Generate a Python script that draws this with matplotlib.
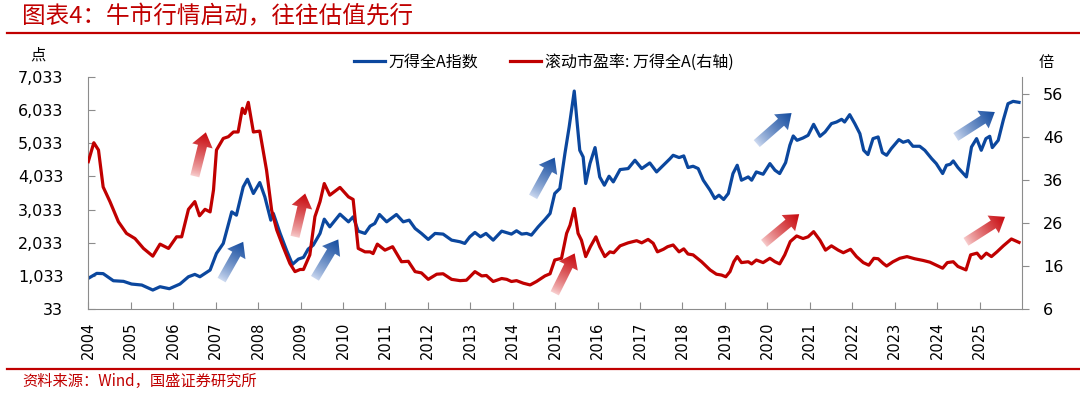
import numpy as np
import matplotlib
matplotlib.use("Agg")
import matplotlib.pyplot as plt
from matplotlib.lines import Line2D
from matplotlib.patches import Polygon
from matplotlib.ticker import FuncFormatter

plt.rcParams['font.family'] = ['DejaVu Sans']
CJK = ['Noto Sans CJK SC', 'DejaVu Sans']

BLUE = '#0B479E'
RED = '#C00000'
GREY = '#8C8C8C'

# 万得全A指数 (left axis), decimal years
idx_year = [2004.00, 2004.20, 2004.35, 2004.59, 2004.83, 2005.02, 2005.26, 2005.52, 2005.69, 2005.91,
            2006.16, 2006.36, 2006.51, 2006.63, 2006.87, 2007.02, 2007.18, 2007.38, 2007.49, 2007.65,
            2007.75, 2007.89, 2008.04, 2008.16, 2008.30, 2008.36, 2008.52, 2008.67, 2008.81, 2008.95,
            2009.07, 2009.18, 2009.30, 2009.46, 2009.56, 2009.69, 2009.93, 2010.13, 2010.24, 2010.36,
            2010.52, 2010.64, 2010.75, 2010.86, 2011.03, 2011.26, 2011.42, 2011.56, 2011.70, 2011.85,
            2012.01, 2012.17, 2012.36, 2012.56, 2012.76, 2012.87, 2012.99, 2013.11, 2013.24, 2013.37,
            2013.54, 2013.74, 2013.89, 2013.97, 2014.09, 2014.21, 2014.33, 2014.44, 2014.60, 2014.76,
            2014.88, 2014.99, 2015.11, 2015.23, 2015.33, 2015.45, 2015.52, 2015.58, 2015.66, 2015.72,
            2015.82, 2015.94, 2016.05, 2016.16, 2016.27, 2016.37, 2016.53, 2016.72, 2016.88, 2017.04,
            2017.23, 2017.39, 2017.55, 2017.70, 2017.78, 2017.92, 2018.03, 2018.13, 2018.25, 2018.37,
            2018.49, 2018.65, 2018.76, 2018.86, 2018.97, 2019.08, 2019.19, 2019.29, 2019.39, 2019.55,
            2019.63, 2019.74, 2019.90, 2020.06, 2020.18, 2020.29, 2020.43, 2020.53, 2020.61, 2020.70,
            2020.84, 2020.96, 2021.09, 2021.24, 2021.36, 2021.51, 2021.63, 2021.75, 2021.82, 2021.94,
            2022.06, 2022.18, 2022.27, 2022.37, 2022.49, 2022.61, 2022.71, 2022.81, 2022.92, 2023.10,
            2023.20, 2023.32, 2023.43, 2023.59, 2023.71, 2023.87, 2023.98, 2024.13, 2024.22, 2024.31,
            2024.38, 2024.49, 2024.69, 2024.81, 2024.93, 2025.04, 2025.15, 2025.24, 2025.30, 2025.44,
            2025.56, 2025.67, 2025.79, 2025.93]
idx_val = [958, 1108, 1100, 886, 867, 786, 756, 605, 705, 645,
           786, 1006, 1077, 1006, 1208, 1710, 2011, 2964, 2864, 3717,
           3949, 3518, 3849, 3416, 2714, 2915, 2313, 1810, 1379, 1539,
           1590, 1840, 1960, 2313, 2744, 2512, 2894, 2663, 2814, 2382,
           2313, 2533, 2614, 2885, 2663, 2885, 2663, 2714, 2463, 2313,
           2132, 2313, 2293, 2111, 2061, 2011, 2212, 2343, 2212, 2313,
           2111, 2382, 2323, 2293, 2393, 2293, 2313, 2262, 2512, 2734,
           2915, 3518, 3668, 4722, 5524, 6609, 5626, 4822, 4620, 3819,
           4420, 4903, 4018, 3768, 4039, 3868, 4240, 4270, 4521, 4270,
           4440, 4169, 4370, 4560, 4671, 4602, 4652, 4301, 4340, 4270,
           3919, 3617, 3367, 3467, 3337, 3518, 4120, 4370, 3919, 4018,
           3919, 4169, 4099, 4420, 4220, 4120, 4450, 4973, 5254, 5123,
           5193, 5274, 5605, 5244, 5374, 5626, 5675, 5756, 5675, 5897,
           5626, 5324, 4822, 4692, 5174, 5224, 4752, 4671, 4873, 5144,
           5063, 5113, 4943, 4943, 4822, 4572, 4420, 4120, 4370, 4400,
           4500, 4301, 4018, 4922, 5174, 4822, 5174, 5244, 4903, 5123,
           5736, 6228, 6298, 6268]

# 滚动市盈率：万得全A (right axis)
pe_year = [2004.00, 2004.13, 2004.24, 2004.35, 2004.51, 2004.71, 2004.90, 2005.10, 2005.30, 2005.52,
           2005.69, 2005.89, 2006.08, 2006.20, 2006.36, 2006.51, 2006.62, 2006.75, 2006.87, 2006.95,
           2007.02, 2007.18, 2007.30, 2007.42, 2007.53, 2007.63, 2007.69, 2007.77, 2007.89, 2008.04,
           2008.20, 2008.32, 2008.44, 2008.59, 2008.75, 2008.87, 2008.99, 2009.07, 2009.22, 2009.34,
           2009.46, 2009.56, 2009.69, 2009.93, 2010.13, 2010.24, 2010.36, 2010.52, 2010.64, 2010.71,
           2010.81, 2010.99, 2011.17, 2011.38, 2011.54, 2011.70, 2011.85, 2012.01, 2012.21, 2012.36,
           2012.56, 2012.76, 2012.91, 2013.11, 2013.27, 2013.38, 2013.54, 2013.74, 2013.86, 2013.97,
           2014.09, 2014.25, 2014.41, 2014.56, 2014.76, 2014.88, 2014.99, 2015.15, 2015.27, 2015.35,
           2015.45, 2015.54, 2015.62, 2015.72, 2015.83, 2015.96, 2016.05, 2016.17, 2016.29, 2016.38,
           2016.53, 2016.72, 2016.92, 2017.04, 2017.19, 2017.31, 2017.41, 2017.55, 2017.65, 2017.78,
           2017.92, 2018.03, 2018.13, 2018.25, 2018.45, 2018.65, 2018.80, 2018.92, 2019.02, 2019.12,
           2019.21, 2019.29, 2019.39, 2019.55, 2019.63, 2019.74, 2019.90, 2020.06, 2020.18, 2020.29,
           2020.41, 2020.54, 2020.69, 2020.84, 2020.96, 2021.09, 2021.24, 2021.37, 2021.51, 2021.67,
           2021.79, 2021.96, 2022.10, 2022.26, 2022.39, 2022.51, 2022.61, 2022.73, 2022.81, 2022.96,
           2023.12, 2023.29, 2023.47, 2023.67, 2023.83, 2023.98, 2024.13, 2024.24, 2024.38, 2024.49,
           2024.68, 2024.79, 2024.94, 2025.04, 2025.16, 2025.28, 2025.41, 2025.56, 2025.75, 2025.93]
pe_val = [40.3, 44.7, 43.0, 34.4, 31.0, 26.3, 23.6, 22.4, 20.1, 18.3,
          21.1, 20.1, 22.8, 22.8, 29.2, 31.0, 27.7, 29.2, 28.6, 33.7,
          43.0, 45.7, 46.1, 47.2, 47.2, 52.7, 51.5, 54.1, 47.2, 47.4,
          38.3, 29.0, 24.4, 20.5, 16.6, 14.7, 15.2, 15.2, 18.6, 27.5,
          31.0, 35.2, 32.5, 34.3, 32.1, 31.5, 20.1, 19.3, 19.3, 18.9,
          21.1, 19.7, 20.5, 17.0, 17.1, 14.7, 14.4, 12.9, 14.1, 14.2,
          12.9, 12.6, 12.7, 14.7, 13.7, 13.8, 12.4, 13.1, 12.9, 12.4,
          12.6, 12.0, 11.6, 12.4, 13.7, 14.2, 17.4, 17.8, 23.6, 25.5,
          29.4, 23.6, 22.0, 18.2, 20.5, 22.8, 20.5, 18.2, 19.3, 19.1,
          20.7, 21.4, 21.9, 21.4, 22.2, 21.3, 19.3, 19.9, 20.5, 20.9,
          19.3, 20.0, 18.8, 18.6, 17.0, 15.1, 14.1, 13.9, 13.5, 14.7,
          17.0, 18.2, 16.8, 17.0, 16.5, 17.4, 16.8, 17.8, 17.0, 16.5,
          18.6, 21.7, 23.0, 22.4, 22.8, 24.0, 22.0, 19.7, 20.7, 19.7,
          19.1, 19.9, 18.2, 16.8, 16.2, 17.8, 17.7, 16.6, 16.0, 17.0,
          17.8, 18.2, 17.7, 17.3, 16.9, 16.2, 15.5, 16.8, 17.0, 15.9,
          15.1, 18.6, 19.0, 17.8, 19.0, 18.2, 19.3, 20.7, 22.3, 21.5]

years = list(range(2004, 2026))
left_ticks = list(range(33, 7034, 1000))
right_ticks = list(range(6, 57, 10))

# gradient arrows: (year0, left value0, year1, left value1, colour)
arrows = [
    (2006.51, 4039, 2006.77, 5364, 'r'),
    (2007.14, 906, 2007.65, 2060, 'b'),
    (2008.87, 2211, 2009.11, 3518, 'r'),
    (2009.34, 958, 2009.89, 2132, 'b'),
    (2014.48, 3415, 2014.99, 4602, 'b'),
    (2014.99, 506, 2015.46, 1711, 'r'),
    (2019.75, 5024, 2020.57, 5946, 'b'),
    (2019.92, 2012, 2020.75, 2894, 'r'),
    (2024.44, 5223, 2025.36, 5976, 'b'),
    (2024.68, 2060, 2025.60, 2813, 'r'),
]
arrow_cols = {
    'b': ((0.80, 0.85, 0.94), (0.07, 0.29, 0.62)),
    'r': ((0.97, 0.80, 0.80), (0.78, 0.02, 0.04)),
}

W, H = 1080, 398
fig = plt.figure(figsize=(W / 100, H / 100), dpi=100)


def px(x, y):
    return x / W, 1 - y / H


ax = fig.add_axes([88.3 / W, 89 / H, (1022 - 88.3) / W, (309 - 77) / H])
ax2 = ax.twinx()

ax.plot(idx_year, idx_val, color=BLUE, lw=2.3, solid_joinstyle='round')
ax2.plot(pe_year, pe_val, color=RED, lw=2.3, solid_joinstyle='round')

ax.set_xlim(2004, 2026)
ax.set_ylim(33, 7033)
ax2.set_ylim(6, 60)
ax.set_xticks(years)
ax.set_xticklabels([str(y) for y in years], rotation=90, fontsize=10.5)
ax.set_yticks(left_ticks)
ax.yaxis.set_major_formatter(FuncFormatter(lambda v, p: f"{int(v):,}"))
ax2.set_yticks(right_ticks)

for a in (ax, ax2):
    for s in a.spines.values():
        s.set_visible(False)
        s.set_color(GREY)
ax.spines['left'].set_visible(True)
ax.spines['bottom'].set_visible(True)
ax2.spines['right'].set_visible(True)

ax.tick_params(axis='x', direction='in', length=5, color=GREY, pad=9)
ax.tick_params(axis='y', direction='in', length=5, color=GREY, pad=18, labelsize=11.5)
ax2.tick_params(axis='y', direction='out', length=5, color=GREY, pad=10, labelsize=11.5)

handles = [Line2D([], [], color=BLUE, lw=2.3), Line2D([], [], color=RED, lw=2.3)]
fig.legend(handles, ['万得全A指数', '滚动市盈率: 万得全A(右轴)'], loc='center',
           bbox_to_anchor=px(544, 62), ncol=2, frameon=False,
           prop={'family': CJK, 'size': 11.5}, handlelength=1.9,
           handletextpad=0.25, columnspacing=2.0)

fig.text(*px(22, 17), '图表4：牛市行情启动，往往估值先行', color=RED, fontsize=17,
         family=CJK, va='center', ha='left')
fig.add_artist(Line2D([7 / W, 1], [1 - 33.4 / H] * 2, color=RED, lw=1.6))
fig.add_artist(Line2D([7 / W, 1], [1 - 369.3 / H] * 2, color=RED, lw=1.6))
fig.text(*px(22, 381), '资料来源：Wind，国盛证券研究所', color=RED, fontsize=11,
         family=CJK, va='center', ha='left')
fig.text(*px(38, 55), '点', fontsize=11, family=CJK, va='center', ha='center')
fig.text(*px(1046, 62), '倍', fontsize=11, family=CJK, va='center', ha='center')

# overlay for the gradient arrows, in pixel units
ov = fig.add_axes([0, 0, 1, 1], zorder=5)
ov.set_axis_off()
ov.patch.set_alpha(0)
for x0, y0, x1, y1, c in arrows:
    p0 = ax.transData.transform((x0, y0))
    p1 = ax.transData.transform((x1, y1))
    d = p1 - p0
    L = np.hypot(*d)
    u = d / L
    n = np.array([-u[1], u[0]])
    hs, hh, hl = 4.6, 10.5, 14.0
    b = p0 + u * (L - hl)
    pts = np.array([p0 + n * hs, b + n * hs, b + n * hh, p1, b - n * hh, b - n * hs, p0 - n * hs])
    poly = Polygon(pts, closed=True, facecolor='none', edgecolor='none', transform=ov.transData)
    ov.add_patch(poly)
    xmin, ymin = pts.min(axis=0) - 1
    xmax, ymax = pts.max(axis=0) + 1
    gx, gy = np.meshgrid(np.linspace(xmin, xmax, 80), np.linspace(ymin, ymax, 80))
    t = np.clip(((gx - p0[0]) * u[0] + (gy - p0[1]) * u[1]) / L, 0, 1) ** 0.8
    lo, hi = np.array(arrow_cols[c][0]), np.array(arrow_cols[c][1])
    img = lo[None, None, :] + (hi - lo)[None, None, :] * t[..., None]
    im = ov.imshow(img, extent=[xmin, xmax, ymin, ymax], origin='lower',
                   interpolation='bilinear', aspect='auto')
    im.set_clip_path(poly)
ov.set_xlim(0, W)
ov.set_ylim(0, H)

fig.savefig('out.png', dpi=100)
